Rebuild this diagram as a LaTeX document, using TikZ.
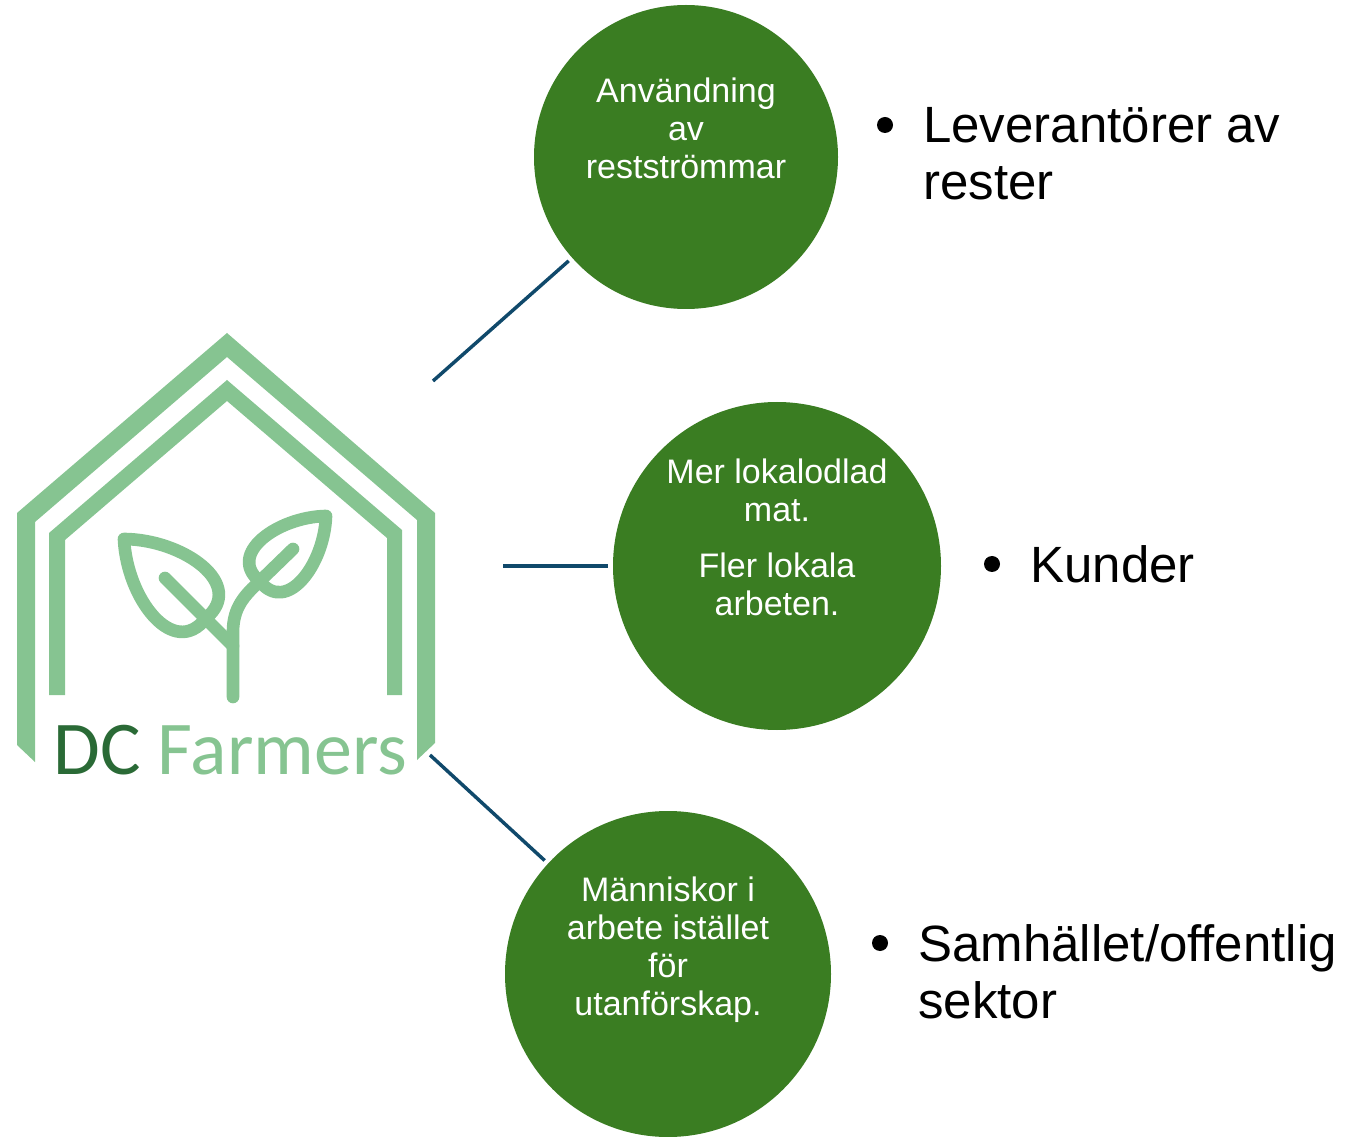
\documentclass[tikz,border=0pt]{standalone}
\usepackage{fontspec}
\setmainfont{Liberation Sans}
\newfontfamily\logofont{Carlito}
\usepackage{tikz}
\definecolor{bubblegreen}{HTML}{3A7D22}
\definecolor{logolight}{HTML}{86C491}
\definecolor{logodark}{HTML}{2A6A36}
\definecolor{linkblue}{HTML}{10496B}
\def\leafpath{(0,0) .. controls (0.38,0.36) and (1.05,0.46) .. (1,0) .. controls (1.05,-0.46) and (0.38,-0.36) .. (0,0) -- cycle}
\def\outerhouse{(17,745) -- (17,513) -- (227,333) -- (435,513) -- (435,743) -- (417,760) -- (417,520) -- (227,357) -- (35,522) -- (35,762) -- cycle}
\def\innerhouse{(49,695) -- (49,533) -- (227,380) -- (402,530) -- (402,695) -- (387,695) -- (387,538) -- (227,401) -- (65,540) -- (65,695) -- cycle}

\begin{document}
\begin{tikzpicture}[x=0.75pt,y=-0.75pt,
    bubble/.style={circle,fill=bubblegreen,inner sep=0pt,outer sep=3.5pt},
    bubbletext/.style={text=white,align=center,inner sep=0pt,
        font=\fontsize{25.5pt}{28.5pt}\selectfont},
    dot/.style={circle,fill=black,inner sep=0pt,minimum size=12pt},
    bullettext/.style={align=left,inner sep=0pt,anchor=north west,
        font=\fontsize{38.25pt}{42.75pt}\selectfont},
    link/.style={draw=linkblue,line width=2.6pt}]
    \useasboundingbox (0,0) rectangle (1365,1137);
    % logo
    \fill[logolight] \outerhouse;
    \fill[logolight] \innerhouse;
    \begin{scope}[draw=logolight,line width=9.5pt,line join=round]
        \draw[shift={(124,539)},rotate=-44,scale=114] \leafpath;
        \draw[shift={(326,516)},rotate=224.6,scale=93] \leafpath;
        \draw[line cap=round] (165,578) -- (233,646);
        \draw[line cap=round] (293,549) -- (260,581) .. controls (245,595) and (233,607) .. (233,632) -- (233,697);
    \end{scope}
    \node[anchor=base west,inner sep=0pt,text=logolight,font=\logofont\fontsize{57pt}{60pt}\selectfont] (logo) at (53,774) {\textcolor{logodark}{DC} Farmers};
    % bubbles
    \node[bubble,minimum size=228pt] (c1) at (686,157) {};
    \node[bubble,minimum size=246pt] (c2) at (777,566) {};
    \node[bubble,minimum size=244.5pt] (c3) at (668,974) {};
    \node[bubbletext] (t1) at (686,128.5) {Användning\\av\\restströmmar};
    \node[bubbletext] (t2) at (777,537.5) {Mer lokalodlad\\mat.\\[13.5pt]Fler lokala\\arbeten.};
    \node[bubbletext] (t3) at (668,950) {Människor i\\arbete istället\\för\\utanförskap.};
    % connectors
    \coordinate (a1) at (433,381);
    \coordinate (a2) at (503,566);
    \coordinate (a3) at (430,755);
    \draw[link] (a1) -- (c1);
    \draw[link] (a2) -- (c2);
    \draw[link] (a3) -- (c3);
    % bullets
    \node[dot] (d1) at (885,125) {};
    \node[dot] (d2) at (992,564) {};
    \node[dot] (d3) at (880,943) {};
    \node[bullettext] (l1) at (923,107) {Leverantörer av\\rester};
    \node[bullettext] (l2) at (1030,545.5) {Kunder};
    \node[bullettext] (l3) at (918,924) {Samhället/offentlig\\sektor};
\end{tikzpicture}
\end{document}
